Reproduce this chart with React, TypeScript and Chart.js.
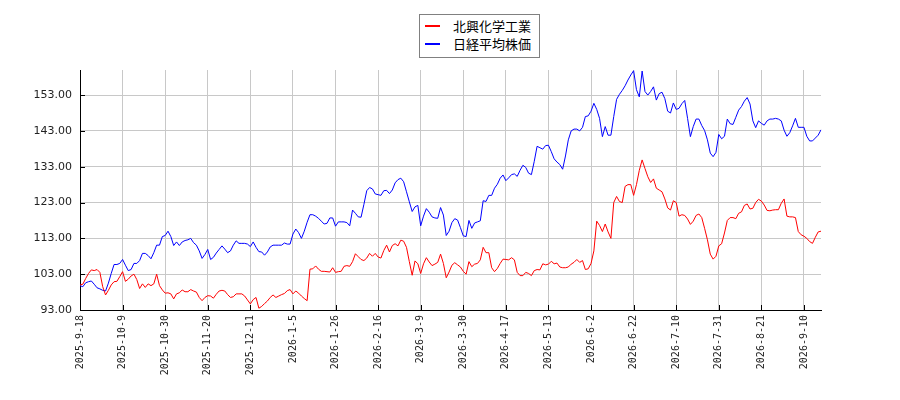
import { useEffect, useRef } from "react";
import { Chart, registerables } from "chart.js";

Chart.register(...registerables);

// x labels shown every 15 trading days
const tickLabels = [
  "2025-9-18", "2025-10-9", "2025-10-30", "2025-11-20", "2025-12-11", "2026-1-5",
  "2026-1-26", "2026-2-16", "2026-3-9", "2026-3-30", "2026-4-17", "2026-5-13",
  "2026-6-2", "2026-6-22", "2026-7-10", "2026-7-31", "2026-8-21", "2026-9-10",
];
const tickEvery = 15;

const seriesNames = ["北興化学工業", "日経平均株価"];
const seriesColors = ["#ff0000", "#0000ff"];

// 北興化学工業 (relative, start = 100)
const hokkoValues = [
  100.0, 100.2, 101.8, 103.2, 104.2, 104.0, 104.3, 103.5, 99.5, 97.2,
  98.5, 100.0, 100.9, 101.0, 102.3, 103.7, 101.0, 101.6, 102.5, 103.0,
  101.5, 99.0, 100.3, 99.3, 100.3, 99.8, 100.3, 103.0, 99.8, 98.6,
  97.7, 97.8, 97.5, 96.1, 97.5, 97.8, 98.6, 98.1, 98.1, 98.7,
  98.3, 98.0, 96.5, 95.6,
  96.5, 97.0, 96.9, 96.3, 97.4, 98.3, 98.5, 98.3, 97.3, 96.5,
  96.7, 97.5, 97.5, 97.5, 96.9, 95.8, 94.7, 95.9, 96.5, 93.5,
  94.0, 94.8, 95.5, 96.5, 97.2, 96.5, 96.9, 97.3, 97.6, 98.4,
  98.7, 97.5, 98.3, 97.7, 96.9, 96.2, 95.6, 104.4, 104.5, 105.3,
  104.4, 103.8, 103.8,
  103.7, 103.6, 104.8, 103.5, 103.7, 103.8, 105.2, 105.4, 105.2, 106.5,
  108.7, 107.9, 107.1, 106.8, 107.5, 108.8, 108.0, 108.8, 107.8, 107.5,
  109.6, 111.1, 109.2, 111.0, 111.5, 110.9, 112.5, 112.2, 110.5, 106.5,
  102.7, 106.7, 105.9, 103.2, 105.9, 107.6, 106.4, 105.4, 105.8, 106.3,
  108.6, 106.0, 102.0,
  103.6, 105.5, 106.2, 105.6, 105.0, 103.8, 103.0, 106.5, 105.1, 105.8,
  106.0, 107.0, 110.5, 109.0, 109.0, 104.8, 103.7, 104.6, 106.0, 107.2,
  107.1, 107.0, 107.6, 107.0, 103.5, 102.6, 102.6, 103.5, 103.2, 102.6,
  104.0, 104.3, 104.2, 105.9, 105.6, 105.8, 106.6, 105.9, 106.1, 105.0,
  104.8, 104.8, 105.0,
  105.8, 106.3, 107.1, 106.3, 106.8, 104.3, 104.5, 106.0, 109.5, 117.8,
  116.6, 114.9, 117.0, 114.8, 113.0, 123.0, 124.7, 123.3, 123.0, 127.5,
  128.0, 128.0, 125.0, 128.0, 132.0, 134.9, 132.5, 130.2, 128.6, 129.6,
  127.0, 126.5, 126.0, 124.0, 121.5, 120.9, 123.5, 123.0, 119.2, 119.6,
  119.4, 118.4, 116.9,
  117.8, 119.4, 119.8, 118.8, 115.8, 112.6, 108.6, 107.2, 108.0, 110.9,
  111.5, 114.5, 118.0, 118.8, 118.8, 118.5, 120.0, 120.4, 122.2, 122.6,
  121.2, 121.4, 123.0, 123.9, 123.4, 122.3, 120.8, 120.7, 120.9, 121.0,
  121.0, 122.8, 124.0, 119.2, 119.0, 119.0, 118.8, 114.9, 114.0, 113.6,
  113.0, 112.1, 111.6, 113.3, 114.8, 115.0,
];

// 日経平均株価 (relative, start = 100)
const nikkeiValues = [
  99.8, 99.5, 100.6, 100.9, 101.1, 100.2, 99.2, 98.9, 98.5, 98.3,
  100.5, 103.2, 105.7, 105.7, 106.0, 107.1, 105.5, 104.0, 104.3, 106.0,
  106.0, 106.8, 108.8, 108.8, 108.2, 107.3, 109.0, 111.1, 111.1, 113.5,
  113.8, 115.0, 113.5, 111.0, 112.0, 111.0, 112.0, 112.4, 112.6, 113.0,
  111.8, 111.1, 109.5, 107.4,
  108.5, 109.9, 107.1, 107.7, 108.9, 109.9, 110.9, 110.0, 109.0, 109.5,
  111.1, 112.3, 111.6, 111.6, 111.6, 111.4, 110.7, 112.0, 110.5, 109.3,
  109.2, 108.3, 109.2, 110.6, 111.1, 111.1, 111.1, 111.1, 111.7, 111.4,
  111.4, 114.2, 115.6, 114.6, 113.0, 115.0, 117.5, 119.6, 119.6, 119.2,
  118.6, 117.8, 117.0,
  117.2, 118.7, 118.7, 116.4, 117.6, 117.6, 117.6, 117.4, 116.5, 120.9,
  120.0, 119.0, 118.9, 122.5, 126.3, 127.2, 126.8, 125.4, 125.2, 125.0,
  126.3, 126.4, 125.5, 126.5, 128.5, 129.4, 129.8, 128.8, 126.0, 123.2,
  120.5, 121.8, 122.2, 116.5, 119.2, 121.3, 120.3, 119.0, 118.7, 118.6,
  121.6, 119.5, 113.8,
  115.0, 117.4, 118.5, 118.1, 116.0, 113.7, 113.5, 118.0, 115.8, 117.3,
  117.6, 117.9, 123.5, 123.3, 125.0, 125.0, 127.0, 128.1, 129.8, 130.7,
  129.1, 129.9, 130.8, 131.0, 130.3, 132.0, 133.4, 132.8, 131.2, 130.8,
  134.5, 138.7, 138.3, 137.9, 138.9, 139.0, 137.2, 135.2, 134.3, 133.6,
  132.3, 136.0, 140.5,
  143.0, 143.5, 143.5, 143.0, 144.0, 147.0, 147.2, 148.5, 150.7, 149.0,
  146.5, 141.4, 144.2, 141.8, 141.8, 147.0, 151.8, 153.2, 154.3, 155.6,
  157.2, 158.6, 159.8, 154.5, 152.5, 159.7, 154.0, 153.0, 154.0, 155.3,
  151.6, 153.4, 153.8, 152.0, 148.5, 148.0, 150.8, 149.0, 149.3, 150.6,
  151.5, 146.5, 141.4,
  144.2, 146.3, 146.3, 144.5, 143.1, 140.5, 136.8, 135.8, 137.0, 142.0,
  140.8, 141.5, 146.3, 145.0, 144.8, 146.8, 148.8, 149.8, 151.3, 152.3,
  150.5, 145.8, 143.9, 145.8, 145.1, 144.6, 145.8, 146.3, 146.3, 146.5,
  146.3, 145.8, 143.2, 141.5, 142.5, 144.4, 146.5, 144.0, 144.0, 144.0,
  141.5, 140.2, 140.2, 141.0, 141.8, 143.3,
];

const yTicks = [93, 103, 113, 123, 133, 143, 153];
const yMin = 93;
const yMax = 160;

const categories = hokkoValues.map((_, i) => String(i));

// small black ticks drawn inside the plot area, like the original image
const innerTicks = {
  id: "innerTicks",
  afterDraw(chart: any) {
    const { ctx, chartArea, scales } = chart;
    ctx.save();
    ctx.strokeStyle = "#000";
    ctx.lineWidth = 1;
    ctx.beginPath();
    for (let i = 0; i < categories.length; i += tickEvery) {
      const px = Math.round(scales.x.getPixelForValue(i)) + 0.5;
      ctx.moveTo(px, chartArea.bottom);
      ctx.lineTo(px, chartArea.bottom - 5);
    }
    yTicks.forEach((v) => {
      const py = Math.round(scales.y.getPixelForValue(v)) + 0.5;
      ctx.moveTo(chartArea.left, py);
      ctx.lineTo(chartArea.left + 5, py);
    });
    ctx.stroke();
    ctx.restore();
  },
};

const App = () => {
  const chartRef = useRef<HTMLCanvasElement | null>(null);

  useEffect(() => {
    if (!chartRef.current) return;
    const ctx = chartRef.current.getContext("2d");
    if (!ctx) return;

    const chart = new Chart(ctx, {
      type: "line",
      data: {
        labels: categories,
        datasets: [hokkoValues, nikkeiValues].map((values, k) => ({
          label: seriesNames[k],
          data: values,
          borderColor: seriesColors[k],
          backgroundColor: seriesColors[k],
          borderWidth: 1,
          pointRadius: 0,
          tension: 0,
          fill: false,
        })),
      },
      options: {
        responsive: false,
        animation: false,
        layout: { padding: { left: 0, right: 79, top: 70, bottom: 0 } },
        plugins: {
          legend: { display: false },
          tooltip: { enabled: false },
        },
        scales: {
          x: {
            afterFit: (scale: any) => {
              scale.height = 90;
            },
            grid: { color: "#c8c8c8", drawTicks: false },
            border: { color: "#000", width: 1 },
            ticks: {
              autoSkip: false,
              minRotation: 90,
              maxRotation: 90,
              padding: 5,
              color: "#222",
              font: { family: "DejaVu Sans Mono", size: 10 },
              callback: (_v: any, index: number) =>
                index % tickEvery === 0 ? tickLabels[index / tickEvery] : null,
            },
          },
          y: {
            min: yMin,
            max: yMax,
            afterFit: (scale: any) => {
              scale.width = 80;
            },
            afterBuildTicks: (scale: any) => {
              scale.ticks = yTicks.map((v) => ({ value: v }));
            },
            grid: { color: "#c8c8c8", drawTicks: false },
            border: { color: "#000", width: 1 },
            ticks: {
              padding: 8,
              color: "#222",
              font: { family: "DejaVu Sans", size: 11 },
              callback: (v: any) => Number(v).toFixed(2),
            },
          },
        },
      },
      plugins: [innerTicks],
    });

    return () => {
      chart.destroy();
    };
  }, []);

  return (
    <div
      style={{
        position: "fixed",
        left: 0,
        top: 0,
        width: 900,
        height: 400,
        background: "#fff",
      }}
    >
      <canvas ref={chartRef} width={900} height={400} style={{ display: "block" }} />
      <div
        style={{
          position: "absolute",
          left: 419,
          top: 14,
          width: 119,
          height: 40,
          border: "1px solid #808080",
          background: "#fff",
          paddingTop: 2,
          boxSizing: "content-box",
          fontFamily: "'Noto Sans CJK JP', 'Noto Sans', sans-serif",
          fontSize: 13,
          color: "#000",
        }}
      >
        {seriesNames.map((name, k) => (
          <div
            key={name}
            style={{ display: "flex", alignItems: "center", height: 18, lineHeight: "18px" }}
          >
            <span
              style={{
                display: "inline-block",
                width: 15,
                height: 2,
                marginLeft: 5,
                marginRight: 13,
                background: seriesColors[k],
              }}
            />
            <span>{name}</span>
          </div>
        ))}
      </div>
    </div>
  );
};

export default App;
